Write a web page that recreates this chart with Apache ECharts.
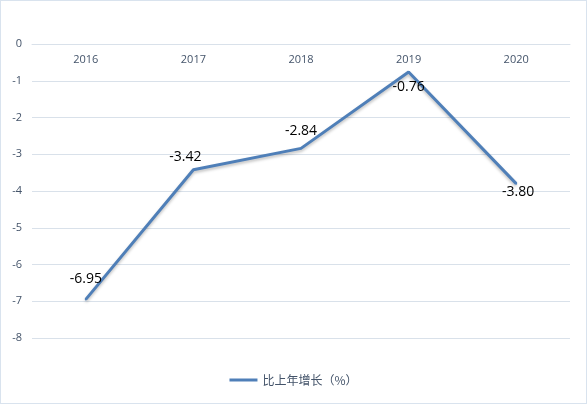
<!DOCTYPE html>
<html><head><meta charset="utf-8">
<script src="https://cdn.jsdelivr.net/npm/echarts@6/dist/echarts.min.js"></script>
<style>
html,body{margin:0;padding:0;background:#fff;}
#c{position:absolute;left:0;top:0;width:585px;height:402px;border:1px solid #d9e3ee;}
</style></head>
<body><div id="c"></div>
<script>
var categories = ['2016','2017','2018','2019','2020'];
var values = [-6.95, -3.42, -2.84, -0.76, -3.80];
var seriesName = '比上年增长（%）';
var labelPos = [
  {position:'top', distance:12, offset:[0,0]},
  {position:'top', distance:5, offset:[-8,0]},
  {position:'top', distance:9, offset:[0,0]},
  {position:'bottom', distance:7, offset:[0,0]},
  {position:'bottom', distance:0, offset:[2,0]}
];
var data = values.map(function(v,i){
  return {value:v, label:labelPos[i]};
});
var chart = echarts.init(document.getElementById('c'));
chart.setOption({
  animation:false,
  textStyle:{fontFamily:'"Open Sans","Noto Sans CJK SC",sans-serif'},
  grid:{left:31,right:16,top:43,bottom:65},
  legend:{
    bottom:12, left:'center',
    itemWidth:28, itemHeight:3, icon:'rect',
    textStyle:{color:'#44546a',fontSize:12,fontFamily:'"Noto Sans CJK SC",sans-serif'},
    data:[seriesName]
  },
  xAxis:{
    type:'category', data:categories, position:'top',
    axisLine:{show:true,lineStyle:{color:'#d9e1ea'}},
    axisTick:{show:false},
    axisLabel:{color:'#44546a',fontSize:11,inside:true,margin:10}
  },
  yAxis:{
    type:'value', min:-8, max:0, interval:1,
    axisLine:{show:false}, axisTick:{show:false},
    axisLabel:{color:'#44546a',fontSize:11,margin:10},
    splitLine:{lineStyle:{color:'#d9e1ea',width:1}}
  },
  series:[{
    name:seriesName, type:'line', data:data,
    symbol:'circle', symbolSize:2, showSymbol:true,
    lineStyle:{color:'#4f7fb8',width:3,shadowColor:'rgba(0,0,0,0.25)',shadowBlur:3,shadowOffsetY:2},
    itemStyle:{color:'#4f7fb8'},
    label:{show:true,color:'#000',fontSize:14,
      formatter:function(p){return Number(p.value).toFixed(2);}}
  }]
});
</script></body></html>
